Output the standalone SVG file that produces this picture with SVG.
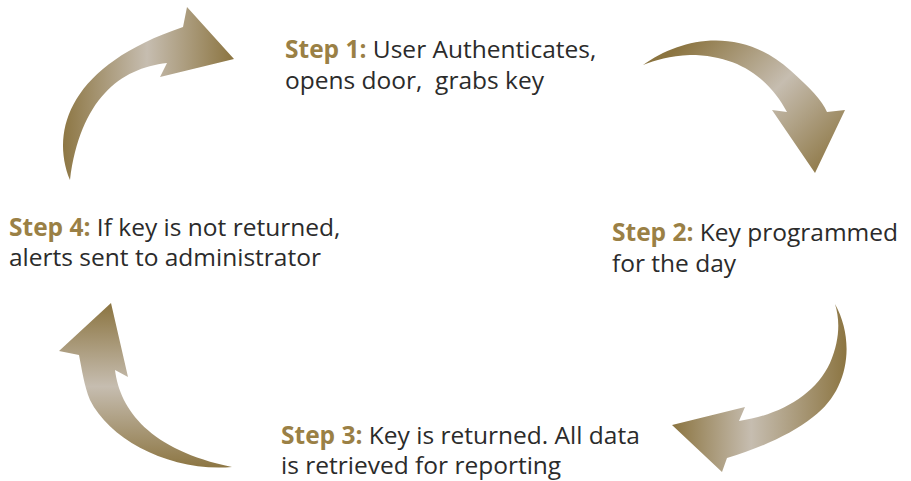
<svg xmlns="http://www.w3.org/2000/svg" width="911" height="481" viewBox="0 0 911 481">
<style>
.t{font-family:"Open Sans","Noto Sans",sans-serif;font-size:24.5px;fill:#2b2b2b}
.s{font-weight:700;fill:#9a8045}
</style>
<defs>
<linearGradient id="g1" gradientUnits="userSpaceOnUse" x1="60" y1="0" x2="234" y2="0">
<stop offset="0" stop-color="#8b7440"/><stop offset="0.5" stop-color="#c6bdb0"/><stop offset="1" stop-color="#8b7440"/></linearGradient>
<linearGradient id="g2" gradientUnits="userSpaceOnUse" x1="690" y1="35" x2="830" y2="175">
<stop offset="0" stop-color="#8b7440"/><stop offset="0.5" stop-color="#c6bdb0"/><stop offset="1" stop-color="#8b7440"/></linearGradient>
<linearGradient id="g3" gradientUnits="userSpaceOnUse" x1="672" y1="0" x2="848" y2="0">
<stop offset="0" stop-color="#8b7440"/><stop offset="0.45" stop-color="#c6bdb0"/><stop offset="1" stop-color="#8b7440"/></linearGradient>
<linearGradient id="g4" gradientUnits="userSpaceOnUse" x1="0" y1="303" x2="0" y2="470">
<stop offset="0" stop-color="#8b7440"/><stop offset="0.5" stop-color="#c6bdb0"/><stop offset="1" stop-color="#8b7440"/></linearGradient>
</defs>
<g id="arrows">
<path fill="url(#g1)" d="M70,180 C50,130 70,65 183,27 L187,7 L234,59 L160,77 L167,63 C120,68 80,100 70,180 Z"/>
<path fill="url(#g2)" d="M643,65 C680,38 740,25 790,70 C810,88 822,100 827,112 L845,110 L815,173 L772,110 L787,112 C770,80 740,55 690,55 C670,56 655,60 643,65 Z"/>
<path fill="url(#g3)" d="M835,304 C855,340 850,390 813,417 C790,435 760,448 727,458 L722,472 L672,425 L745,407 L739,421 C780,415 815,395 830,363 C840,340 840,320 835,304 Z"/>
<path fill="url(#g4)" d="M232,467 C170,472 110,440 90,400 C84,385 82,370 79,355 L59,351 L111,303 L128,377 L115,370 C120,410 150,450 232,467 Z"/>
</g>
<g id="step1"><text class="t" x="285" y="58"><tspan class="s">Step 1:</tspan> User Authenticates,</text><text class="t" x="285" y="89" xml:space="preserve">opens door,&#160; grabs key</text></g>
<g id="step2"><text class="t" x="612" y="241"><tspan class="s">Step 2:</tspan> Key programmed</text><text class="t" x="612" y="272">for the day</text></g>
<g id="step3"><text class="t" x="281" y="444"><tspan class="s">Step 3:</tspan> Key is returned. All data</text><text class="t" x="281" y="474">is retrieved for reporting</text></g>
<g id="step4"><text class="t" x="9" y="236"><tspan class="s">Step 4:</tspan> If key is not returned,</text><text class="t" x="9" y="266">alerts sent to administrator</text></g>
</svg>
